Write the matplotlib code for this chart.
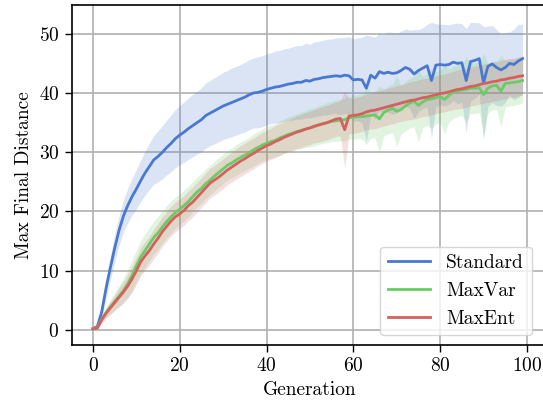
import numpy as np
import matplotlib
matplotlib.use("Agg")
import matplotlib.pyplot as plt

plt.rcParams['font.family'] = 'serif'
plt.rcParams['font.serif'] = ['cmr10', 'DejaVu Serif']
plt.rcParams['mathtext.fontset'] = 'cm'
plt.rcParams['axes.formatter.use_mathtext'] = True
plt.rcParams['font.size'] = 14

generations = list(range(100))

standard_mean = [
    0.2, 0.6, 3.0, 7.0, 10.5, 13.8, 16.8, 19.2, 21.0, 22.5,
    23.8, 25.2, 26.5, 27.6, 28.7, 29.3, 30.0, 30.8, 31.5, 32.3,
    32.9, 33.4, 34.0, 34.5, 35.0, 35.5, 36.2, 36.6, 37.0, 37.4,
    37.8, 38.1, 38.4, 38.7, 39.0, 39.3, 39.7, 40.0, 40.1, 40.3,
    40.6, 40.8, 41.0, 41.1, 41.3, 41.5, 41.6, 41.8, 41.8, 42.1,
    42.0, 42.3, 42.4, 42.6, 42.7, 42.8, 42.9, 42.8, 43.0, 42.9,
    42.2, 42.3, 42.2, 40.8, 43.0, 42.5, 43.6, 43.3, 43.5, 43.3,
    43.4, 43.8, 44.3, 44.0, 43.2, 43.8, 44.2, 44.6, 42.1, 44.7,
    44.8, 44.7, 44.8, 45.2, 45.0, 45.1, 42.1, 45.3, 45.5, 45.8,
    41.7, 44.5, 44.9, 44.3, 43.9, 44.3, 45.0, 44.8, 45.4, 45.8,
]
standard_std = [
    0.0, 0.3, 1.0, 1.6, 2.0, 2.3, 2.5, 2.7, 2.9, 3.1,
    3.3, 3.5, 3.7, 3.9, 4.1, 4.3, 4.5, 4.6, 4.8, 4.9,
    5.0, 5.1, 5.2, 5.3, 5.3, 5.4, 5.5, 5.5, 5.6, 5.6,
    5.7, 5.7, 5.8, 5.8, 5.8, 5.9, 5.9, 5.9, 6.0, 6.0,
    6.0, 6.0, 6.1, 6.1, 6.1, 6.1, 6.2, 6.2, 6.2, 6.3,
    6.2, 6.3, 6.3, 6.3, 6.4, 6.3, 6.4, 6.5, 6.4, 6.6,
    6.9, 7.0, 7.2, 9.0, 6.6, 6.9, 6.5, 6.6, 6.8, 6.9,
    6.7, 6.6, 6.5, 6.6, 7.5, 6.9, 6.8, 7.0, 9.8, 7.0,
    6.8, 6.9, 6.7, 6.5, 6.8, 6.6, 8.8, 6.6, 6.4, 6.0,
    9.5, 6.8, 6.5, 6.4, 6.1, 5.9, 5.3, 6.0, 6.2, 5.8,
]

maxvar_mean = [
    0.2, 0.4, 1.8, 2.9, 3.9, 4.8, 5.7, 6.6, 7.8, 9.2,
    10.8, 12.3, 13.4, 14.5, 15.6, 16.4, 17.4, 18.3, 19.1, 19.8,
    20.4, 21.0, 21.7, 22.5, 23.3, 23.9, 24.7, 25.3, 26.0, 26.6,
    27.2, 27.8, 28.2, 28.7, 29.1, 29.5, 29.9, 30.4, 30.8, 31.2,
    31.5, 31.8, 32.0, 32.4, 32.7, 33.0, 33.2, 33.5, 33.7, 33.9,
    34.1, 34.3, 34.6, 34.8, 35.0, 35.2, 35.3, 35.4, 35.5, 35.8,
    35.9, 36.0, 36.0, 36.1, 36.2, 36.3, 35.6, 36.7, 37.1, 37.4,
    36.9, 37.2, 37.8, 38.3, 38.6, 37.9, 38.5, 38.9, 39.0, 39.2,
    39.4, 38.9, 39.6, 40.1, 40.4, 40.5, 40.6, 40.8, 40.8, 40.9,
    39.7, 40.8, 41.2, 41.3, 40.3, 41.6, 41.7, 41.8, 41.9, 42.1,
]
maxvar_std = [
    0.0, 0.2, 0.6, 0.9, 1.2, 1.5, 1.8, 2.1, 2.4, 2.6,
    2.7, 2.8, 2.8, 2.8, 2.8, 2.8, 2.7, 2.7, 2.7, 2.6,
    2.6, 2.6, 2.6, 2.5, 2.5, 2.5, 2.5, 2.5, 2.5, 2.5,
    2.5, 2.5, 2.5, 2.6, 2.6, 2.6, 2.6, 2.7, 2.7, 2.7,
    2.8, 2.8, 2.8, 2.9, 2.9, 3.0, 3.0, 3.0, 3.1, 3.1,
    3.2, 3.2, 3.3, 3.3, 3.4, 3.4, 3.5, 3.5, 3.6, 3.6,
    3.7, 3.7, 3.8, 4.8, 3.8, 3.9, 5.6, 4.0, 4.0, 4.1,
    6.0, 4.1, 4.2, 4.2, 4.3, 6.2, 4.3, 4.4, 5.0, 4.4,
    4.4, 5.8, 4.5, 4.4, 4.4, 4.3, 5.5, 4.3, 4.3, 4.2,
    7.0, 4.2, 4.1, 4.1, 6.0, 4.0, 3.9, 3.9, 3.8, 3.8,
]

maxent_mean = [
    0.2, 0.3, 1.7, 2.8, 3.7, 4.6, 5.5, 6.4, 7.4, 8.6,
    10.0, 11.5, 12.5, 13.4, 14.5, 15.5, 16.6, 17.5, 18.4, 19.1,
    19.6, 20.2, 21.0, 21.6, 22.4, 23.2, 24.0, 24.8, 25.3, 25.8,
    26.4, 27.0, 27.5, 28.0, 28.5, 28.9, 29.4, 29.8, 30.3, 30.7,
    31.1, 31.4, 31.8, 32.1, 32.5, 32.8, 33.1, 33.4, 33.6, 33.9,
    34.1, 34.4, 34.6, 34.8, 35.0, 35.3, 35.6, 35.7, 33.8, 36.1,
    36.2, 36.3, 36.5, 36.8, 37.0, 37.1, 37.3, 37.5, 37.7, 37.9,
    38.1, 38.3, 38.5, 38.7, 38.8, 39.0, 39.2, 39.3, 39.5, 39.7,
    39.9, 40.0, 40.2, 40.4, 40.6, 40.7, 40.9, 41.1, 41.2, 41.4,
    41.6, 41.7, 41.9, 42.0, 42.2, 42.3, 42.5, 42.6, 42.8, 42.9,
]
maxent_std = [
    0.0, 0.1, 0.5, 0.8, 1.1, 1.3, 1.6, 1.8, 2.0, 2.2,
    2.3, 2.4, 2.4, 2.4, 2.5, 2.5, 2.5, 2.5, 2.5, 2.5,
    2.5, 2.5, 2.5, 2.5, 2.5, 2.5, 2.5, 2.5, 2.5, 2.5,
    2.5, 2.5, 2.5, 2.6, 2.6, 2.6, 2.6, 2.6, 2.6, 2.6,
    2.6, 2.6, 2.7, 2.7, 2.7, 2.7, 2.7, 2.8, 2.8, 2.8,
    2.8, 2.8, 2.9, 2.9, 2.9, 2.9, 2.9, 3.0, 6.5, 3.0,
    3.0, 3.0, 3.0, 3.0, 3.1, 3.1, 3.1, 3.1, 3.1, 3.1,
    3.1, 3.1, 3.1, 3.2, 3.2, 3.2, 3.2, 3.2, 3.2, 3.2,
    3.2, 3.2, 3.2, 3.2, 3.3, 3.3, 3.3, 3.3, 3.3, 3.3,
    3.3, 3.3, 3.3, 3.3, 3.3, 3.3, 3.3, 3.3, 3.3, 3.3,
]

series_names = ["Standard", "MaxVar", "MaxEnt"]
colors = ["#4878d0", "#6acc64", "#d65f5f"]

fig = plt.figure(figsize=(5.43, 4.04), dpi=100)
ax = fig.add_axes([0.1317, 0.146, 0.8783, 0.8416])

x = np.array(generations)
for name, m, s, c in zip(series_names,
                         [standard_mean, maxvar_mean, maxent_mean],
                         [standard_std, maxvar_std, maxent_std],
                         colors):
    m = np.array(m)
    s = np.array(s)
    ax.fill_between(x, m - s, m + s, color=c, alpha=0.2, linewidth=0)
    ax.plot(x, m, color=c, lw=2, label=name)

ax.set_xlim(-4.95, 104.95)
ax.set_ylim(-2.55, 54.85)
ax.set_xticks([0, 20, 40, 60, 80, 100])
ax.set_yticks([0, 10, 20, 30, 40, 50])
ax.grid(True, color="#b0b0b0", lw=1.2)
ax.set_axisbelow(True)
for sp in ax.spines.values():
    sp.set_color("black")
    sp.set_linewidth(1.2)
ax.tick_params(direction="out", length=4.8, width=1.0, pad=4, colors="black")
ax.set_xlabel("Generation")
ax.set_ylabel("Max Final Distance")
ax.legend(loc="lower right", bbox_to_anchor=(0.985, 0.0), handlelength=2.2)

fig.savefig("out.png", dpi=100)
